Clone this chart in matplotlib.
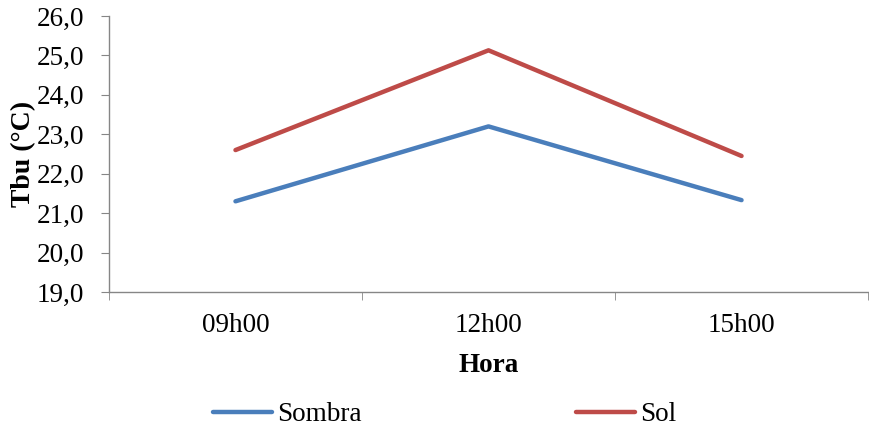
import matplotlib.pyplot as plt
import matplotlib.ticker as mticker

# dados
horas = ['09h00', '12h00', '15h00']
sombra = [21.3, 23.2, 21.33]
sol = [22.6, 25.13, 22.45]

plt.rcParams['font.family'] = ['Liberation Serif', 'DejaVu Serif']

fig = plt.figure(figsize=(8.69, 4.26), dpi=100)
ax = fig.add_axes([0.1254, 0.3146, 0.8735, 0.6478])

x = range(len(horas))
ax.plot(x, sombra, color='#4A7EBB', lw=3.2, solid_capstyle='round', label='Sombra')
ax.plot(x, sol, color='#BE4B48', lw=3.2, solid_capstyle='round', label='Sol')

ax.set_xlim(-0.5, len(horas) - 0.5)
ax.set_ylim(19, 26)
ax.yaxis.set_major_locator(mticker.MultipleLocator(1))
ax.yaxis.set_major_formatter(mticker.FuncFormatter(lambda v, p: f'{v:.1f}'.replace('.', ',')))

# eixo x tipo categoria: marcas entre as categorias
ax.set_xticks(list(x))
ax.set_xticklabels(horas)
ax.set_xticks([-0.5, 0.5, 1.5, 2.5], minor=True)
ax.tick_params(axis='x', which='major', length=0, pad=15, labelsize=19.5)
ax.tick_params(axis='x', which='minor', length=6, color='#868686', direction='out')
ax.tick_params(axis='y', length=6, color='#868686', labelsize=19.5, pad=12)

for s in ['top', 'right']:
    ax.spines[s].set_visible(False)
for s in ['left', 'bottom']:
    ax.spines[s].set_color('#868686')
    ax.spines[s].set_linewidth(1)

ax.set_xlabel('Hora', fontsize=19.5, fontweight='bold', labelpad=11)
ax.set_ylabel('Tbu (°C)', fontsize=20, fontweight='bold', labelpad=0)

fig.legend(loc='center left', bbox_to_anchor=(0.245, 0.027), ncol=2, frameon=False,
           fontsize=19.5, handlelength=2.2, handletextpad=0.18, columnspacing=7.9,
           borderaxespad=0, borderpad=0)

fig.savefig('out.png', dpi=100)
